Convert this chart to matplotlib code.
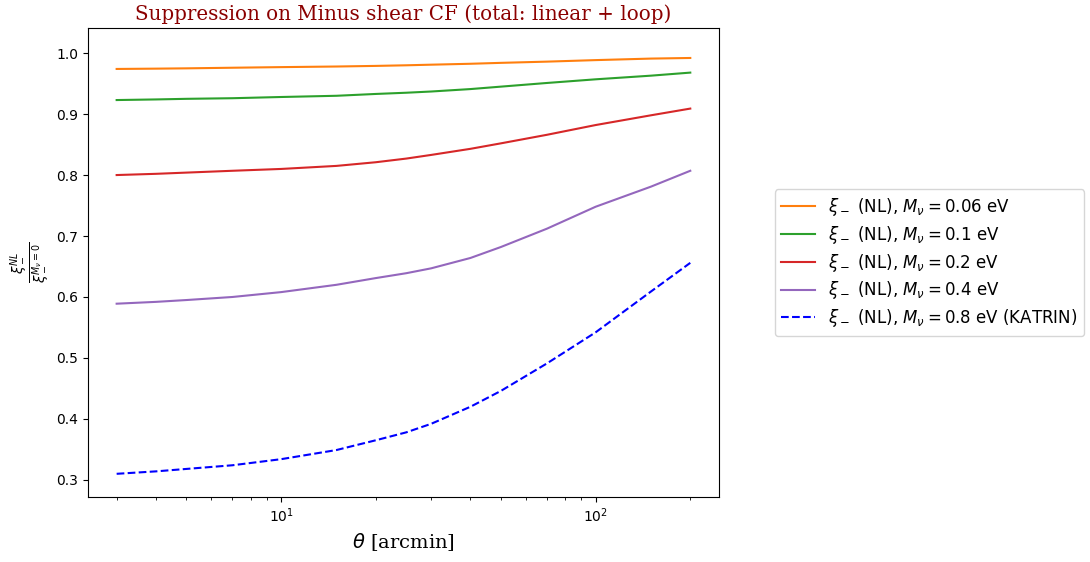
import numpy as np
import matplotlib
matplotlib.use("Agg")
import matplotlib.pyplot as plt

# Angular separations [arcmin]
theta = [3, 4, 5, 7, 10, 15, 20, 25, 30, 40, 50, 70, 100, 150, 200]

# Ratio xi_-^{NL} / xi_-^{M_nu=0} for each neutrino mass
ratio_006 = [0.974, 0.9745, 0.975, 0.976, 0.977, 0.978, 0.979, 0.980, 0.981,
             0.9825, 0.984, 0.986, 0.9885, 0.991, 0.992]
ratio_01 = [0.923, 0.924, 0.925, 0.926, 0.928, 0.930, 0.933, 0.935, 0.937,
            0.941, 0.945, 0.951, 0.957, 0.963, 0.968]
ratio_02 = [0.800, 0.802, 0.804, 0.807, 0.810, 0.815, 0.821, 0.827, 0.833,
            0.843, 0.852, 0.866, 0.882, 0.898, 0.909]
ratio_04 = [0.589, 0.592, 0.595, 0.600, 0.608, 0.620, 0.631, 0.639, 0.647,
            0.664, 0.682, 0.712, 0.748, 0.781, 0.807]
ratio_08 = [0.310, 0.314, 0.318, 0.324, 0.334, 0.349, 0.365, 0.378, 0.392,
            0.420, 0.446, 0.491, 0.542, 0.609, 0.656]

labels = [
    r"$\xi_-$ (NL), $M_\nu = 0.06$ eV",
    r"$\xi_-$ (NL), $M_\nu = 0.1$ eV",
    r"$\xi_-$ (NL), $M_\nu = 0.2$ eV",
    r"$\xi_-$ (NL), $M_\nu = 0.4$ eV",
    r"$\xi_-$ (NL), $M_\nu = 0.8$ eV (KATRIN)",
]

fig = plt.figure(figsize=(10.9, 5.62), dpi=100)
ax = fig.add_axes([0.0807, 0.1157, 0.5789, 0.8343])

ax.plot(theta, ratio_006, color="tab:orange", label=labels[0])
ax.plot(theta, ratio_01, color="tab:green", label=labels[1])
ax.plot(theta, ratio_02, color="tab:red", label=labels[2])
ax.plot(theta, ratio_04, color="tab:purple", label=labels[3])
ax.plot(theta, ratio_08, color="blue", linestyle="--", label=labels[4])

ax.set_xscale("log")
ax.set_ylim(0.272, 1.041)
ax.set_yticks([0.3, 0.4, 0.5, 0.6, 0.7, 0.8, 0.9, 1.0])

ax.set_title("Suppression on Minus shear CF (total: linear + loop)",
             family="DejaVu Serif", fontsize=14.3, color="darkred")
ax.set_xlabel(r"$\theta$ [arcmin]", family="DejaVu Serif", fontsize=14)
ax.set_ylabel(r"$\frac{\xi_-^{NL}}{\xi_-^{M_\nu=0}}$", fontsize=14)

ax.legend(loc="center left", bbox_to_anchor=(1.075, 0.5), fontsize=12,
          labelspacing=0.35)

fig.savefig("out.png", dpi=100)
